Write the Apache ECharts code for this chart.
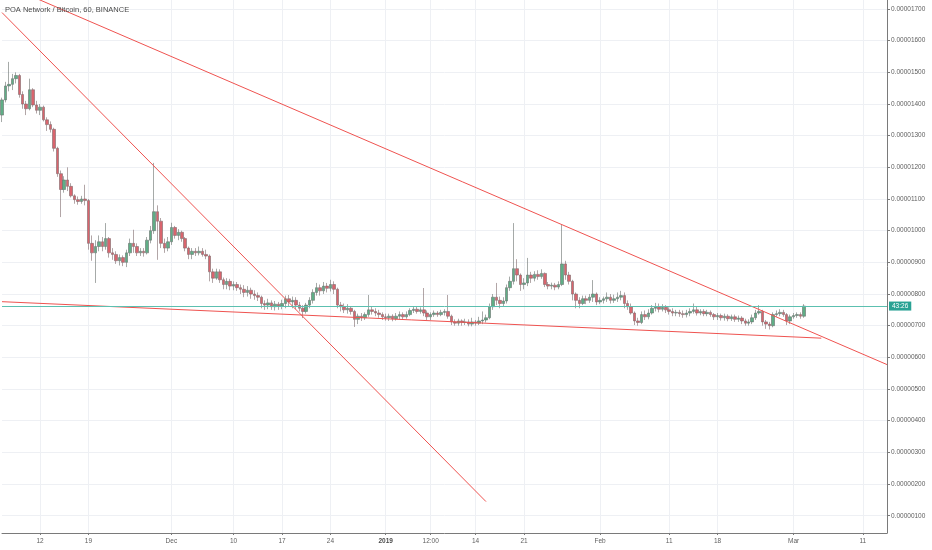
<!DOCTYPE html>
<html><head><meta charset="utf-8">
<script src="https://cdn.jsdelivr.net/npm/echarts@6/dist/echarts.min.js"></script>
<style>html,body{margin:0;padding:0;background:#fff}#c{width:932px;height:550px}</style>
</head><body><div id="c"></div>
<script>
// ---- data (prices in satoshi, 1 sat = 0.00000001 BTC) ----
const chartTitle = 'POA Network / Bitcoin, 60, BINANCE';
const slotStartUTC = Date.UTC(2018, 10, 6, 12); // first 12h slot
const slotHours = 12;
const slotCount = 257; // through 2019-03-14 12:00
const xTickLabels = [
  ['2018-11-12 00:00', '12'], ['2018-11-19 00:00', '19'], ['2018-12-01 00:00', 'Dec'],
  ['2018-12-10 00:00', '10'], ['2018-12-17 00:00', '17'], ['2018-12-24 00:00', '24'],
  ['2019-01-01 00:00', '2019'], ['2019-01-07 12:00', '12:00'], ['2019-01-14 00:00', '14'],
  ['2019-01-21 00:00', '21'], ['2019-02-01 00:00', 'Feb'], ['2019-02-11 00:00', '11'],
  ['2019-02-18 00:00', '18'], ['2019-03-01 00:00', 'Mar'], ['2019-03-11 00:00', '11']
];
const yTickValues = [100, 200, 300, 400, 500, 600, 700, 800, 900, 1000, 1100, 1200, 1300, 1400, 1500, 1600, 1700];
const lastPrice = 762;
const countdownLabel = '43:26';
// [open, close, low, high] per 12h slot
const candles = [
[1365,1413,1343,1420],[1413,1457,1405,1470],[1457,1462,1440,1533],[1462,1480,1444,1495],[1480,1490,1465,1500],
[1490,1430,1420,1495],[1430,1400,1385,1440],[1400,1385,1365,1410],[1385,1445,1380,1480],[1445,1397,1390,1450],
[1397,1380,1370,1410],[1380,1390,1365,1400],[1390,1350,1345,1395],[1350,1335,1315,1358],[1335,1320,1310,1345],
[1320,1260,1250,1325],[1260,1180,1170,1265],[1180,1130,1043,1190],[1130,1160,1120,1172],[1160,1140,1125,1200],
[1140,1110,1105,1150],[1110,1098,1085,1115],[1098,1092,1082,1108],[1092,1100,1085,1110],[1100,1095,1080,1145],
[1095,960,940,1100],[960,930,905,985],[930,950,835,970],[950,965,935,985],[965,950,935,980],
[950,975,940,1024],[975,930,915,980],[930,925,908,945],[925,905,895,935],[905,915,890,925],
[915,900,888,922],[900,930,885,940],[930,960,920,975],[960,950,930,1003],[950,930,920,960],
[930,935,920,945],[935,930,918,945],[930,970,925,980],[970,1000,960,1015],[1000,1060,990,1214],
[1060,1030,908,1080],[1030,960,945,1040],[960,945,930,975],[945,965,935,980],[965,1010,955,1025],
[1010,985,975,1015],[985,995,970,1005],[995,975,965,1000],[975,945,935,980],[945,925,910,950],
[925,935,910,945],[935,930,920,945],[930,935,922,950],[935,925,918,945],[925,920,910,940],
[920,870,840,925],[870,850,835,880],[850,870,845,880],[870,845,835,878],[845,830,815,852],
[830,840,815,850],[840,825,812,848],[825,830,812,840],[830,820,810,838],[820,815,800,830],
[815,805,790,828],[805,812,792,825],[812,800,785,820],[800,795,782,812],[795,790,778,805],
[790,770,755,795],[770,765,750,780],[765,772,752,785],[772,760,750,780],[760,768,748,778],
[768,762,750,775],[762,770,752,782],[770,785,755,795],[785,775,760,797],[775,780,755,792],
[780,765,752,790],[765,755,745,775],[755,745,724,765],[745,765,738,772],[765,780,755,790],
[780,805,770,815],[805,820,795,835],[820,810,795,830],[810,825,800,838],[825,818,805,835],
[818,830,808,845],[830,815,800,840],[815,765,755,820],[765,760,745,775],[760,750,740,770],
[750,755,738,768],[755,745,735,762],[745,720,696,750],[720,730,705,738],[730,725,715,740],
[725,735,718,742],[735,750,728,797],[750,745,735,762],[745,740,730,755],[740,735,725,750],
[735,728,718,742],[728,725,716,738],[725,730,715,738],[730,722,714,736],[722,730,716,740],
[730,735,720,745],[735,728,720,742],[728,735,722,745],[735,748,730,755],[748,752,740,762],
[752,745,738,760],[745,750,738,758],[750,740,730,819],[740,728,718,748],[728,735,718,742],
[735,740,728,748],[740,735,728,746],[735,742,730,750],[742,745,732,752],[745,730,722,797],
[730,712,702,735],[712,708,700,720],[708,715,700,722],[715,710,700,720],[710,712,702,722],
[712,705,698,720],[705,712,698,725],[712,708,700,718],[708,715,702,728],[715,718,705,745],
[718,725,710,735],[725,760,720,770],[760,790,750,800],[790,780,765,835],[780,770,755,792],
[770,778,760,790],[778,820,770,830],[820,840,810,855],[840,880,830,1024],[880,860,840,910],
[860,830,810,865],[830,835,815,850],[835,860,825,914],[860,850,835,870],[850,862,840,872],
[862,855,845,875],[855,865,848,878],[865,830,822,868],[830,825,815,838],[825,828,815,836],
[828,822,812,835],[822,830,815,840],[830,895,825,1018],[895,860,845,905],[860,840,830,870],
[840,800,780,845],[800,780,755,805],[780,770,755,790],[770,785,765,795],[785,780,768,795],
[780,790,772,800],[790,800,775,844],[800,775,765,805],[775,780,768,790],[780,785,770,792],
[785,790,775,805],[790,780,770,800],[780,785,772,798],[785,790,775,805],[790,795,780,810],
[795,770,755,805],[770,760,750,780],[760,740,735,770],[740,715,702,745],[715,710,700,725],
[710,735,705,745],[735,728,718,748],[728,740,720,752],[740,755,735,765],[755,760,745,772],
[760,752,742,770],[752,758,745,768],[758,750,740,765],[750,745,735,758],[745,740,730,755],
[740,742,730,750],[742,738,728,750],[738,735,725,748],[735,740,726,750],[740,745,730,755],
[745,750,738,770],[750,740,732,760],[740,745,733,752],[745,738,730,752],[738,742,730,750],
[742,735,728,748],[735,728,718,740],[728,732,718,740],[732,725,716,738],[725,730,716,738],
[730,722,714,736],[722,728,715,735],[728,720,712,735],[720,724,712,732],[724,715,705,730],
[715,708,700,722],[708,712,700,720],[712,725,705,735],[725,740,718,750],[740,745,735,765],
[745,712,700,750],[712,705,690,718],[705,700,688,712],[700,735,695,742],[735,738,728,748],
[738,742,730,752],[742,735,728,750],[735,715,702,740],[715,728,705,735],[728,732,722,740],
[732,735,725,742],[735,730,722,742],[730,762,725,768]
];
// hand-drawn trend lines: [slotIndex, price]
const trendLines = [
  [[0, 1688.7], [140, 144.6]],
  [[10, 1733.1], [256, 577.2]],
  [[0, 775.8], [237, 660.6]]
];

// ---- build ----
function fmt(ms) {
  const d = new Date(ms);
  const p = n => String(n).padStart(2, '0');
  return d.getUTCFullYear() + '-' + p(d.getUTCMonth() + 1) + '-' + p(d.getUTCDate()) + ' ' + p(d.getUTCHours()) + ':' + p(d.getUTCMinutes());
}
const categories = [];
for (let i = 0; i < slotCount; i++) categories.push(fmt(slotStartUTC + i * slotHours * 3600000));
const labelMap = {};
xTickLabels.forEach(([k, t]) => { labelMap[k] = t; });
const showTick = (idx, val) => labelMap.hasOwnProperty(val);

const FONT = 'Liberation Sans, Arial, sans-serif';
const RED = '#ef5350';
const chart = echarts.init(document.getElementById('c'), null, { renderer: 'canvas' });
chart.setOption({
  animation: false,
  backgroundColor: '#ffffff',
  title: {
    text: chartTitle, left: 5, top: 6, padding: 0,
    textStyle: { fontSize: 7.5, fontWeight: 'normal', color: '#4a4a4a', fontFamily: FONT }
  },
  grid: { left: 2, right: 45, top: 0, bottom: 17, containLabel: false },
  xAxis: {
    type: 'category', data: categories, boundaryGap: false,
    axisLine: { lineStyle: { color: '#7a7a7a', width: 1 } },
    axisTick: { show: true, interval: showTick, length: 2, lineStyle: { color: '#7a7a7a' } },
    axisLabel: {
      interval: showTick, fontSize: 6.5, color: '#5e5e5e', fontFamily: FONT, margin: 5,
      formatter: v => labelMap[v] === '2019' ? '{b|2019}' : labelMap[v],
      rich: { b: { fontWeight: 'bold', fontSize: 6.5, color: '#4a4a4a', fontFamily: FONT } }
    },
    splitLine: { show: true, interval: showTick, lineStyle: { color: '#eef0f4', width: 1 } }
  },
  yAxis: {
    type: 'value', position: 'right', min: 45.4, max: 1728.4,
    axisLine: { show: true, lineStyle: { color: '#7a7a7a', width: 1 } },
    axisTick: { show: true, length: 3, customValues: yTickValues, lineStyle: { color: '#7a7a7a' } },
    axisLabel: {
      customValues: yTickValues, fontSize: 6.5, color: '#5e5e5e', fontFamily: FONT, margin: 4,
      formatter: v => (v / 1e8).toFixed(8)
    },
    splitLine: { show: true, lineStyle: { color: '#eef0f4', width: 1 } }
  },
  series: [
    {
      type: 'candlestick', data: candles, barWidth: 3,
      itemStyle: { color: '#5fae86', color0: '#d9646d', borderColor: '#6a706d', borderColor0: '#7d6a6c', borderWidth: 0.6 },
      markLine: {
        silent: true, symbol: ['none', 'none'],
        lineStyle: { color: '#5cc0b0', width: 1, type: 'solid' },
        label: {
          show: true, position: 'end', formatter: countdownLabel, color: '#ffffff',
          backgroundColor: '#2aa294', padding: [1, 3, 1, 3], fontSize: 6.5, fontFamily: FONT, distance: 2
        },
        data: [{ yAxis: lastPrice }]
      }
    },
    ...trendLines.map(pts => ({
      type: 'line', data: pts, symbol: 'none', silent: true, clip: true, color: RED,
      itemStyle: { color: RED },
      lineStyle: { color: RED, width: 1 }
    }))
  ]
});
</script></body></html>
